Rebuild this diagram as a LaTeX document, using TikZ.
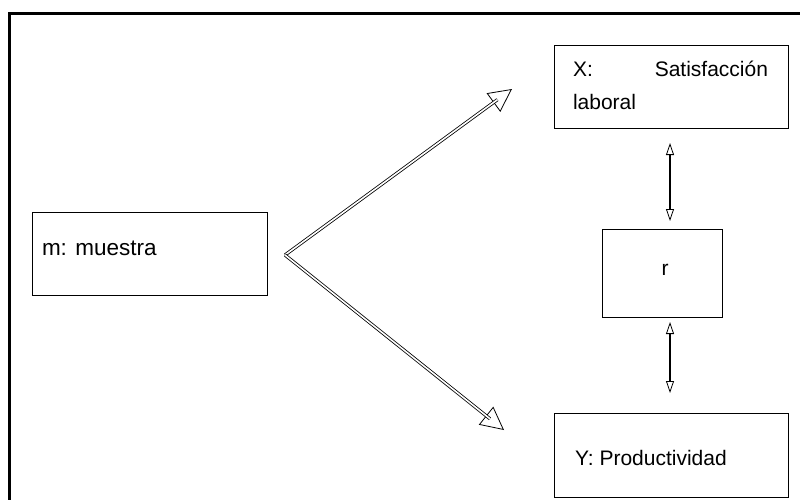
\documentclass[tikz,border=0pt]{standalone}
\usepackage{fontspec}
\setmainfont{Liberation Sans}
\usetikzlibrary{arrows.meta}
\begin{document}
\begin{tikzpicture}[x=1pt,y=-1pt,
  box/.style={draw=black,line width=1pt,inner sep=0pt,outer sep=0pt},
  txt/.style={inner sep=0pt,outer sep=0pt,font=\fontsize{21}{33}\selectfont},
  head/.style={-{Triangle[open,length=23pt,width=23pt,line width=0.8pt]},line width=0.8pt},
  shaft/.style={double=white,double distance=1.6pt,line width=0.8pt},
  varrow/.style={{Triangle[open,length=12pt,width=8pt,line width=0.8pt]}-{Triangle[open,length=12pt,width=8pt,line width=0.8pt]},line width=1.8pt}]
\useasboundingbox (0,0) rectangle (800,499);
\clip (0,0) rectangle (800,499);
\fill[white] (0,0) rectangle (800,499);
\draw[line width=3pt] (9.8,13) rectangle (830,530);
% boxes
\node[box,minimum width=235pt,minimum height=83pt] (m) at (149.5,253.5) {};
\node[txt,font=\fontsize{22.5}{33}\selectfont,anchor=base west] (mt) at (42,255) {m: muestra};
\node[box,minimum width=234pt,minimum height=83pt] (X) at (671,86.5) {};
\node[txt,anchor=base west,text width=195pt,align=left] (xt) at (573,76) {X:\hfill Satisfacción\\laboral};
\node[box,minimum width=120pt,minimum height=88pt] (r) at (662,273) {};
\node[txt,anchor=base] (rt) at (665,275) {r};
\node[box,minimum width=234pt,minimum height=84pt] (Y) at (671,455) {};
\node[txt,anchor=base west] (yt) at (575,465) {Y: Productividad};
% diagonal arrows
\coordinate (apex) at (285,255);
\coordinate (tx) at (512,89);
\coordinate (ty) at (504,430);
\draw[head] (apex) -- (tx);
\draw[shaft,shorten >=18pt] (apex) -- (tx);
\draw[head] (apex) -- (ty);
\draw[shaft,shorten >=18pt] (apex) -- (ty);
% vertical double-headed arrows
\draw[varrow,shorten <=15pt,shorten >=8pt] ([xshift=-1pt]X.south) -- ([xshift=8pt]r.north);
\draw[varrow,shorten <=5pt,shorten >=20pt] ([xshift=8pt]r.south) -- ([xshift=-1pt]Y.north);
\end{tikzpicture}
\end{document}
